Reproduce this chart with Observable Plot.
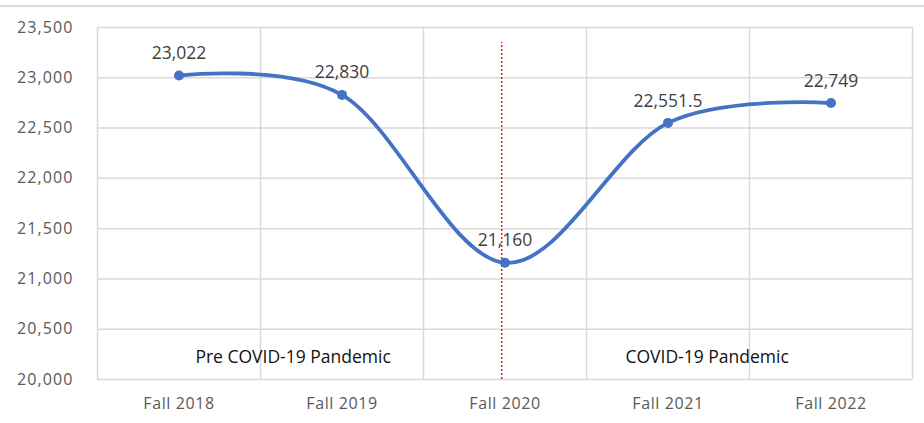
<!DOCTYPE html>
<html>
<head>
<meta charset="utf-8">
<script src="https://cdn.jsdelivr.net/npm/d3@7"></script>
<script src="https://cdn.jsdelivr.net/npm/@observablehq/plot@0.6"></script>
<style>
  html, body { margin: 0; padding: 0; background: #fff; }
  #topline { margin-top: 5px; height: 2px; background: #dcdcdc; width: 924px; }
  #chart svg { display: block; }
  #chart svg g[aria-label="y-axis tick label"] text { font-size: 16px; letter-spacing: 1.1px; }
  #chart svg g[aria-label="x-axis tick label"] text { font-size: 16px; letter-spacing: 0.6px; }
</style>
</head>
<body>
<div id="topline"></div>
<div id="chart"></div>
<script>
const terms = ["Fall 2018", "Fall 2019", "Fall 2020", "Fall 2021", "Fall 2022"];
const enrollment = [23022, 22830, 21160, 22551.5, 22749];
const valueLabels = ["23,022", "22,830", "21,160", "22,551.5", "22,749"];
const yTicks = [20000, 20500, 21000, 21500, 22000, 22500, 23000, 23500];
const periodNames = ["Pre COVID-19 Pandemic", "COVID-19 Pandemic"];
const periodX = [0.7, 3.24];
const periodY = [20220, 20220];
const dividerX = [1.98];
const dividerY = [20000, 23350];

const data = terms.map((t, i) => ({i, term: t, value: enrollment[i], label: valueLabels[i]}));
const bandEdges = d3.range(terms.length + 1).map(k => k - 0.5);
const periods = periodNames.map((n, i) => ({name: n, x: periodX[i], y: periodY[i]}));

const font = "'Open Sans', Roboto, sans-serif";

const chart = Plot.plot({
  width: 924,
  height: 416,
  marginLeft: 97,
  marginRight: 12,
  marginTop: 20,
  marginBottom: 44,
  style: {fontFamily: font, fontSize: "15px", color: "#595959", background: "#fff"},
  x: {type: "linear", domain: [-0.5, terms.length - 0.5], ticks: d3.range(terms.length), tickFormat: i => terms[i], tickSize: 0, tickPadding: 18, label: null},
  y: {domain: [20000, 23500], ticks: yTicks, tickSize: 0, tickPadding: 24, label: null, tickFormat: d => d.toLocaleString("en-US")},
  marks: [
    Plot.ruleY(yTicks, {stroke: "#d9d9d9", strokeWidth: 1.5}),
    Plot.ruleX(bandEdges, {stroke: "#d9d9d9", strokeWidth: 1.5}),
    Plot.ruleX(dividerX, {y1: dividerY[0], y2: dividerY[1], stroke: "#e8281e", strokeWidth: 1.6, strokeDasharray: "2,2"}),
    Plot.line(data, {x: "i", y: "value", curve: "cardinal", stroke: "#4472c4", strokeWidth: 3.8, strokeLinecap: "round"}),
    Plot.dot(data, {x: "i", y: "value", r: 5, fill: "#4472c4"}),
    Plot.text(data, {x: "i", y: "value", text: "label", dy: -22, fontSize: 17.5, fill: "#404040", style: "letter-spacing:0.4px"}),
    Plot.text(periods, {x: "x", y: "y", text: "name", fontSize: 17.5, fill: "#111", style: "letter-spacing:0.6px"})
  ]
});
document.getElementById("chart").appendChild(chart);
</script>
</body>
</html>
